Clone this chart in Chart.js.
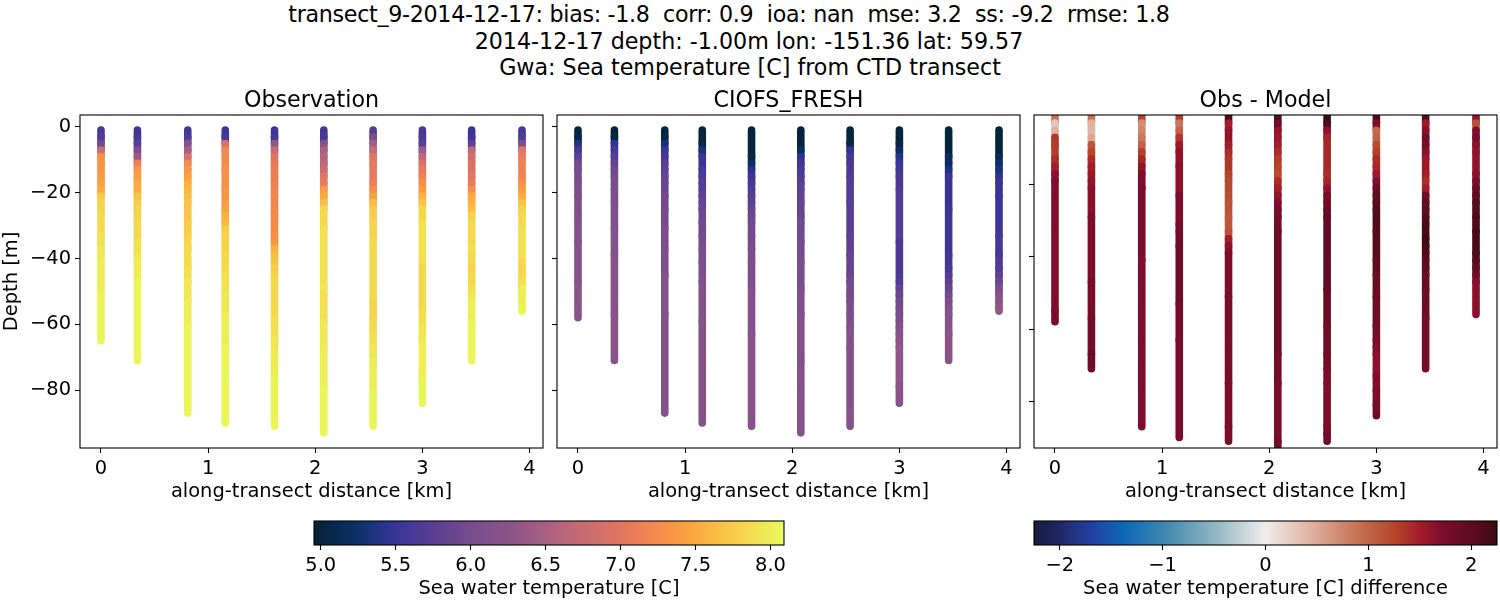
<!DOCTYPE html>
<html><head><meta charset="utf-8">
<style>
html,body{margin:0;padding:0;background:#fff;width:1500px;height:600px;overflow:hidden}
canvas{position:absolute}
.sup{position:absolute;width:1000px;text-align:center;font:22.2px "DejaVu Sans",sans-serif;color:#000;white-space:pre;line-height:26px}
</style>
<script src="https://cdn.jsdelivr.net/npm/chart.js@4/dist/chart.umd.js"></script>
</head><body>
<div class="sup" style="left:229px;top:1px;letter-spacing:-0.31px">transect_9-2014-12-17: bias: -1.8  corr: 0.9  ioa: nan  mse: 3.2  ss: -9.2  rmse: 1.8</div>
<div class="sup" style="left:249px;top:28px">2014-12-17 depth: -1.00m lon: -151.36 lat: 59.57</div>
<div class="sup" style="left:250px;top:54px">Gwa: Sea temperature [C] from CTD transect</div>
<canvas id="c1" width="623" height="424" style="left:0;top:80px;width:623px;height:424px"></canvas>
<canvas id="c2" width="623" height="424" style="left:477px;top:80px;width:623px;height:424px"></canvas>
<canvas id="c3" width="623" height="424" style="left:954px;top:80px;width:623px;height:424px"></canvas>
<canvas id="b1" width="498" height="86" style="left:300px;top:515px;width:498px;height:86px"></canvas>
<canvas id="b2" width="480" height="86" style="left:1020px;top:515px;width:480px;height:86px"></canvas>
<script>
const distances=[0,0.34,0.81,1.16,1.62,2.08,2.54,3.0,3.46,3.93];
const depths=[-1,-3,-5,-7,-9,-11,-13,-15,-17,-19,-21,-23,-25,-27,-29,-31,-33,-35,-37,-39,-41,-43,-45,-47,-49,-51,-53,-55,-57,-59,-61,-63,-65,-67,-69,-71,-73,-75,-77,-79,-81,-83,-85,-87,-89,-91,-93];
const bottomObs=[-65,-71,-87,-90,-91,-93,-91,-84,-71,-56];
const bottomModel=[-58,-71,-87,-90,-91,-93,-91,-84,-71,-56];
const obsTemp=[
[5.6,5.7,5.95,6.8,7.3,7.35,7.35,7.4,7.45,7.5,7.75,7.8,7.8,7.85,7.85,7.85,7.9,7.9,7.95,7.95,8.0,8.0,8.0,8.0,8.0,8.05,8.05,8.05,8.05,8.05,8.05,8.05,8.05],
[5.55,5.6,5.75,6.1,6.4,7.15,7.35,7.4,7.5,7.55,7.7,7.75,7.8,7.8,7.85,7.85,7.85,7.9,7.9,7.95,8.0,8.0,8.0,8.05,8.05,8.05,8.05,8.05,8.05,8.05,8.05,8.05,8.05,8.05,8.05,8.05],
[5.6,5.7,6.2,6.45,6.9,7.25,7.35,7.45,7.55,7.6,7.65,7.7,7.7,7.7,7.75,7.75,7.8,7.8,7.85,7.85,7.85,7.9,7.9,7.95,7.95,7.95,8.0,8.0,8.0,8.0,8.05,8.05,8.05,8.05,8.05,8.05,8.05,8.05,8.05,8.05,8.05,8.05,8.05,8.05],
[5.55,5.6,6.9,7.2,7.25,7.25,7.3,7.3,7.3,7.35,7.35,7.4,7.45,7.55,7.6,7.75,7.8,7.8,7.8,7.85,7.85,7.85,7.9,7.9,7.9,7.95,7.95,7.95,8.0,8.0,8.0,8.0,8.0,8.05,8.05,8.05,8.05,8.05,8.05,8.05,8.05,8.05,8.05,8.05,8.05,8.05],
[5.55,5.6,6.3,6.75,6.95,7.05,7.1,7.12,7.15,7.18,7.2,7.2,7.22,7.25,7.25,7.25,7.3,7.35,7.55,7.65,7.7,7.75,7.8,7.85,7.85,7.85,7.85,7.85,7.85,7.9,7.9,7.9,7.95,7.95,8.0,8.0,8.0,8.0,8.05,8.05,8.05,8.05,8.05,8.05,8.05,8.05],
[5.6,5.65,6.2,6.5,6.6,6.65,6.8,7.0,7.1,7.4,7.5,7.65,7.85,7.85,7.85,7.9,7.9,7.9,7.9,7.9,7.9,7.9,7.9,7.9,7.95,7.9,7.9,7.9,7.9,7.95,7.95,7.95,7.95,8.0,8.0,8.0,8.0,8.0,8.0,8.05,8.05,8.05,8.05,8.05,8.05,8.05,8.05],
[5.7,6.05,6.45,6.75,7.0,7.05,7.05,7.05,7.15,7.3,7.45,7.65,7.75,7.75,7.8,7.8,7.8,7.85,7.85,7.85,7.85,7.85,7.85,7.85,7.85,7.85,7.8,7.8,7.8,7.85,7.85,7.9,7.9,7.95,7.95,8.0,8.0,8.0,8.0,8.0,8.05,8.05,8.05,8.05,8.05,8.05],
[5.6,5.65,5.75,6.4,6.7,6.9,7.05,7.15,7.3,7.4,7.55,7.7,7.85,7.85,7.9,7.9,7.9,7.9,7.9,7.9,7.9,7.85,7.85,7.85,7.85,7.85,7.85,7.85,7.9,7.9,7.95,7.95,8.0,8.0,8.0,8.0,8.0,8.0,8.05,8.05,8.05,8.05,8.05],
[5.5,5.55,5.8,6.7,6.85,6.9,6.95,7.0,7.1,7.3,7.5,7.55,7.65,7.8,7.85,7.85,7.85,7.85,7.9,7.85,7.85,7.8,7.85,7.85,7.9,7.95,8.0,8.0,8.0,8.05,8.05,8.05,8.05,8.05,8.05,8.05],
[5.6,5.7,6.05,7.0,7.1,7.15,7.15,7.2,7.3,7.4,7.5,7.7,7.8,7.85,7.85,7.9,7.9,7.9,7.9,7.9,7.85,7.8,7.85,7.9,8.0,8.0,8.0,8.05,8.05]
];
const modelTemp=[
[5.0,5.05,5.4,5.6,5.8,5.95,6.0,6.0,6.05,6.05,6.1,6.1,6.1,6.15,6.15,6.15,6.15,6.2,6.2,6.2,6.2,6.2,6.2,6.25,6.25,6.25,6.25,6.25,6.25,6.25],
[5.0,5.05,5.45,5.6,5.75,5.85,5.95,6.0,6.0,6.05,6.05,6.1,6.1,6.1,6.1,6.15,6.15,6.15,6.15,6.2,6.2,6.2,6.2,6.2,6.2,6.2,6.2,6.2,6.25,6.25,6.25,6.25,6.25,6.25,6.25,6.25],
[5.0,5.05,5.3,5.5,5.6,5.75,5.8,5.85,5.9,5.9,5.95,5.95,6.0,6.0,6.0,6.05,6.05,6.05,6.1,6.1,6.1,6.1,6.15,6.15,6.15,6.15,6.15,6.15,6.2,6.2,6.2,6.2,6.2,6.2,6.2,6.2,6.2,6.2,6.2,6.2,6.2,6.2,6.2,6.2],
[5.0,5.0,5.05,5.3,5.5,5.5,5.6,5.65,5.7,5.75,5.8,5.85,5.9,5.9,5.95,5.95,6.0,6.0,6.05,6.05,6.1,6.1,6.1,6.15,6.15,6.15,6.15,6.15,6.15,6.2,6.2,6.2,6.2,6.2,6.2,6.2,6.2,6.2,6.2,6.2,6.2,6.2,6.2,6.2,6.2,6.2],
[5.0,5.0,5.0,5.0,5.05,5.2,5.4,5.5,5.6,5.7,5.75,5.8,5.85,5.9,5.95,5.95,6.0,6.0,6.05,6.05,6.1,6.1,6.1,6.1,6.15,6.15,6.15,6.15,6.15,6.15,6.15,6.2,6.2,6.2,6.2,6.2,6.2,6.2,6.2,6.2,6.2,6.2,6.2,6.2,6.2,6.2],
[5.0,5.0,5.0,5.2,5.45,5.55,5.65,5.7,5.75,5.8,5.8,5.85,5.85,5.9,5.95,5.95,5.95,6.0,6.0,6.0,6.05,6.05,6.05,6.05,6.1,6.1,6.1,6.1,6.15,6.15,6.15,6.15,6.15,6.15,6.15,6.2,6.2,6.2,6.2,6.2,6.2,6.2,6.2,6.2,6.2,6.2,6.2],
[5.0,5.0,5.05,5.45,5.6,5.65,5.65,5.7,5.7,5.7,5.7,5.75,5.75,5.75,5.75,5.75,5.8,5.8,5.8,5.85,5.85,5.85,5.9,5.95,5.95,6.0,6.05,6.05,6.1,6.1,6.15,6.15,6.15,6.2,6.2,6.2,6.2,6.2,6.2,6.2,6.2,6.2,6.2,6.2,6.2,6.2],
[5.0,5.0,5.05,5.2,5.4,5.55,5.6,5.65,5.65,5.7,5.7,5.7,5.7,5.7,5.7,5.7,5.7,5.65,5.65,5.65,5.65,5.65,5.65,5.7,5.85,5.9,5.95,6.0,6.05,6.1,6.15,6.2,6.25,6.3,6.3,6.3,6.3,6.3,6.3,6.25,6.25,6.25,6.25],
[5.0,5.0,5.0,5.0,5.15,5.2,5.35,5.5,5.5,5.5,5.5,5.5,5.55,5.55,5.55,5.55,5.55,5.55,5.55,5.6,5.6,5.65,5.7,5.8,5.9,6.0,6.1,6.15,6.2,6.2,6.2,6.25,6.25,6.25,6.25,6.25],
[5.0,5.0,5.0,5.0,5.15,5.25,5.35,5.45,5.5,5.5,5.55,5.55,5.55,5.55,5.55,5.55,5.6,5.6,5.6,5.65,5.65,5.7,5.8,5.9,6.05,6.2,6.25,6.3,6.3]
];
const diffTemp=[
[0.9,0.3,0.45,1.35,1.3,1.3,1.4,1.5,1.65,1.7,1.7,1.7,1.7,1.7,1.7,1.7,1.7,1.7,1.7,1.7,1.7,1.7,1.7,1.7,1.7,1.7,1.7,1.75,1.75,1.75],
[0.9,0.45,0.4,0.5,1.1,1.25,1.4,1.5,1.55,1.6,1.65,1.65,1.65,1.65,1.7,1.7,1.7,1.7,1.7,1.7,1.7,1.7,1.7,1.75,1.75,1.75,1.75,1.75,1.8,1.8,1.8,1.8,1.8,1.85,1.85,1.85],
[1.25,0.7,0.75,0.85,1.0,1.3,1.45,1.6,1.7,1.7,1.75,1.75,1.75,1.75,1.75,1.75,1.75,1.75,1.75,1.75,1.7,1.7,1.7,1.7,1.7,1.7,1.7,1.7,1.7,1.7,1.7,1.7,1.7,1.7,1.7,1.7,1.7,1.7,1.7,1.7,1.7,1.7,1.7,1.7],
[1.3,0.85,1.0,1.35,1.55,1.6,1.6,1.65,1.65,1.65,1.65,1.7,1.7,1.7,1.7,1.75,1.8,1.8,1.85,1.85,1.85,1.85,1.85,1.85,1.85,1.85,1.8,1.8,1.8,1.8,1.8,1.75,1.75,1.75,1.75,1.75,1.75,1.75,1.75,1.75,1.75,1.75,1.75,1.75,1.75,1.75],
[2.1,1.5,1.6,1.6,1.5,1.4,1.35,1.35,1.25,1.2,1.2,1.2,1.15,1.15,1.1,1.1,1.15,1.5,1.65,1.7,1.7,1.7,1.7,1.7,1.7,1.75,1.75,1.75,1.75,1.75,1.75,1.75,1.75,1.75,1.75,1.75,1.75,1.7,1.7,1.7,1.7,1.7,1.7,1.75,1.75,1.75],
[2.1,1.8,1.6,1.55,1.5,1.4,1.3,1.25,1.2,1.4,1.5,1.6,1.7,1.75,1.8,1.8,1.85,1.85,1.85,1.85,1.85,1.85,1.85,1.85,1.85,1.85,1.85,1.85,1.85,1.85,1.85,1.85,1.85,1.8,1.8,1.8,1.8,1.75,1.75,1.75,1.75,1.75,1.75,1.75,1.75,1.8,1.8],
[2.2,2.1,1.6,1.45,1.45,1.45,1.45,1.45,1.4,1.45,1.6,1.75,1.85,1.9,1.95,1.95,1.95,1.95,1.95,1.95,1.95,1.95,1.95,1.95,1.9,1.9,1.9,1.9,1.9,1.85,1.85,1.85,1.85,1.8,1.8,1.75,1.75,1.7,1.7,1.7,1.7,1.7,1.7,1.75,1.8,1.85],
[2.1,1.7,0.95,1.0,1.2,1.3,1.4,1.45,1.55,1.7,1.85,1.95,2.05,2.1,2.1,2.1,2.05,2.05,2.05,2.05,1.95,1.95,1.9,1.9,1.9,1.85,1.85,1.85,1.85,1.8,1.8,1.75,1.7,1.65,1.65,1.65,1.7,1.7,1.75,1.75,1.8,1.8,1.85],
[2.05,1.55,1.65,1.8,1.75,1.65,1.55,1.55,1.5,1.4,1.5,1.85,1.95,2.0,2.1,2.15,2.15,2.2,2.15,2.1,2.0,1.95,1.9,1.9,1.85,1.85,1.85,1.85,1.8,1.8,1.8,1.8,1.8,1.8,1.8,1.8],
[1.6,1.15,1.7,1.75,1.65,1.6,1.6,1.6,1.65,1.75,1.9,1.95,2.05,2.05,2.1,2.1,2.15,2.15,2.15,2.1,2.05,1.95,1.8,1.65,1.65,1.65,1.65,1.65,1.65]
];
const thermalStops=[[0,4,35,51],[0.1,14,50,112],[0.17,56,52,152],[0.25,88,62,148],[0.33,118,76,142],[0.42,140,84,136],[0.5,172,98,128],[0.6,208,110,110],[0.68,234,123,90],[0.75,248,144,70],[0.81,252,168,62],[0.9,248,207,74],[1,232,250,90]];
const balanceStops=[[0,24,28,67],[0.05,32,38,96],[0.12,35,62,160],[0.19,12,102,184],[0.28,62,134,174],[0.39,142,182,194],[0.5,241,236,235],[0.6,222,176,158],[0.7,198,113,85],[0.78,182,68,42],[0.84,160,25,42],[0.88,125,13,44],[0.95,90,12,35],[1,60,9,18]];
const tempRange=[4.955,8.09];
const diffRange=[-2.25,2.25];
const xTicks=[0,1,2,3,4];
const yTicksLeft=[0,-20,-40,-60,-80];
const yTicksDiff=[-20,-40,-60,-80];
const tempTicks=[5,5.5,6,6.5,7,7.5,8];
const diffTicks=[-2,-1,0,1,2];

Chart.defaults.font.family='"DejaVu Sans",sans-serif';
Chart.defaults.color='#000';
const FONT=19.44;
function cmap(stops,t){
  t=Math.min(1,Math.max(0,t));
  for(let i=1;i<stops.length;i++){
    if(t<=stops[i][0]){
      const a=stops[i-1],b=stops[i],f=(t-a[0])/(b[0]-a[0]);
      return `rgb(${[1,2,3].map(k=>Math.round(a[k]+(b[k]-a[k])*f)).join(',')})`;
    }
  }
  const l=stops[stops.length-1];return `rgb(${l[1]},${l[2]},${l[3]})`;
}
const boxPlugin={id:'box',afterDraw(c){const a=c.chartArea,x=c.ctx;x.save();x.strokeStyle='#000';x.lineWidth=1.1;x.strokeRect(a.left,a.top,a.right-a.left,a.bottom-a.top);x.restore();}};
const minus=v=>String(v).replace('-','\u2212');

function panel(id,title,vals,bottoms,stops,range,yMin,yMax,yTicks,showY){
  const datasets=vals.map((col,i)=>{
    const colors=col.map(v=>cmap(stops,(v-range[0])/(range[1]-range[0])));
    return {
      data:col.map((v,k)=>({x:distances[i],y:Math.max(depths[k],bottoms[i])})),
      showLine:true,borderWidth:7.6,borderCapStyle:'round',borderColor:colors[0],
      segment:{borderColor:ctx=>colors[ctx.p0DataIndex]},
      pointRadius:3.2,pointBorderWidth:0,pointBackgroundColor:colors,clip:0,xAxisID:'x',yAxisID:'y'
    };
  });
  new Chart(document.getElementById(id),{
    type:'scatter',data:{datasets},plugins:[boxPlugin],
    options:{
      responsive:false,animation:false,devicePixelRatio:1,
      layout:{padding:0},
      plugins:{legend:{display:false},tooltip:{enabled:false},
        title:{display:true,text:title,font:{size:22.2,weight:'normal',lineHeight:1.2},color:'#000',padding:{top:7.5,bottom:0.86}}},
      scales:{
        x:{type:'linear',min:-0.196,max:4.126,
          afterBuildTicks:s=>{s.ticks=xTicks.map(v=>({value:v}));},
          afterFit:s=>{s.height=56;},
          border:{display:false},
          grid:{drawOnChartArea:false,drawTicks:true,tickLength:5,tickColor:'#000',tickWidth:1.1},
          ticks:{font:{size:FONT},padding:4,maxRotation:0,autoSkip:false,callback:v=>minus(v)},
          title:{display:true,text:'along-transect distance [km]',font:{size:FONT},padding:{top:0,bottom:0}}},
        y:{type:'linear',min:yMin,max:yMax,
          afterBuildTicks:s=>{s.ticks=yTicks.map(v=>({value:v}));},
          afterFit:s=>{s.width=80;},
          border:{display:false},
          grid:{drawOnChartArea:false,drawTicks:true,tickLength:5,tickColor:'#000',tickWidth:1.1},
          ticks:{font:{size:FONT},padding:4,autoSkip:false,callback:v=>showY?minus(v):''},
          title:{display:showY,text:'Depth [m]',font:{size:FONT},padding:{top:0,bottom:0}}},
        spacer:{type:'linear',position:'right',min:0,max:1,
          afterFit:s=>{s.width=80;},
          border:{display:false},grid:{display:false},ticks:{display:false},title:{display:false}}
      }
    }
  });
}
panel('c1','Observation',obsTemp,bottomObs,thermalStops,tempRange,-97.6,3.6,yTicksLeft,true);
panel('c2','CIOFS_FRESH',modelTemp,bottomModel,thermalStops,tempRange,-97.6,3.6,yTicksLeft,false);
panel('c3','Obs - Model',diffTemp,bottomModel,balanceStops,diffRange,-92.9,-0.8,yTicksDiff,false);

function colorbar(id,label,stops,range,ticks,fmt,padL,padR){
  new Chart(document.getElementById(id),{
    type:'scatter',
    data:{datasets:[{
      data:[{x:range[0],y:0.5},{x:range[1],y:0.5}],
      showLine:true,borderWidth:24,borderCapStyle:'butt',pointRadius:0,clip:0,
      borderColor:ctx=>{
        const a=ctx.chart.chartArea;if(!a)return '#000';
        const g=ctx.chart.ctx.createLinearGradient(a.left,0,a.right,0);
        stops.forEach(s=>g.addColorStop(s[0],`rgb(${s[1]},${s[2]},${s[3]})`));
        return g;
      }
    }]},
    plugins:[boxPlugin],
    options:{
      responsive:false,animation:false,devicePixelRatio:1,
      layout:{padding:{left:padL,right:padR,top:6,bottom:0}},
      plugins:{legend:{display:false},tooltip:{enabled:false},title:{display:false}},
      scales:{
        x:{type:'linear',min:range[0],max:range[1],
          afterBuildTicks:s=>{s.ticks=ticks.map(v=>({value:v}));},
          afterFit:s=>{s.height=56;},
          border:{display:false},
          grid:{drawOnChartArea:false,drawTicks:true,tickLength:5,tickColor:'#000',tickWidth:1.1},
          ticks:{font:{size:FONT},padding:4,maxRotation:0,autoSkip:false,callback:fmt},
          title:{display:true,text:label,font:{size:FONT},padding:{top:0,bottom:0}}},
        y:{type:'linear',min:0,max:1,display:false}
      }
    }
  });
}
colorbar('b1','Sea water temperature [C]',thermalStops,tempRange,tempTicks,v=>v.toFixed(1),14,14);
colorbar('b2','Sea water temperature [C] difference',balanceStops,diffRange,diffTicks,v=>minus(v),14,3);
</script>
</body></html>
